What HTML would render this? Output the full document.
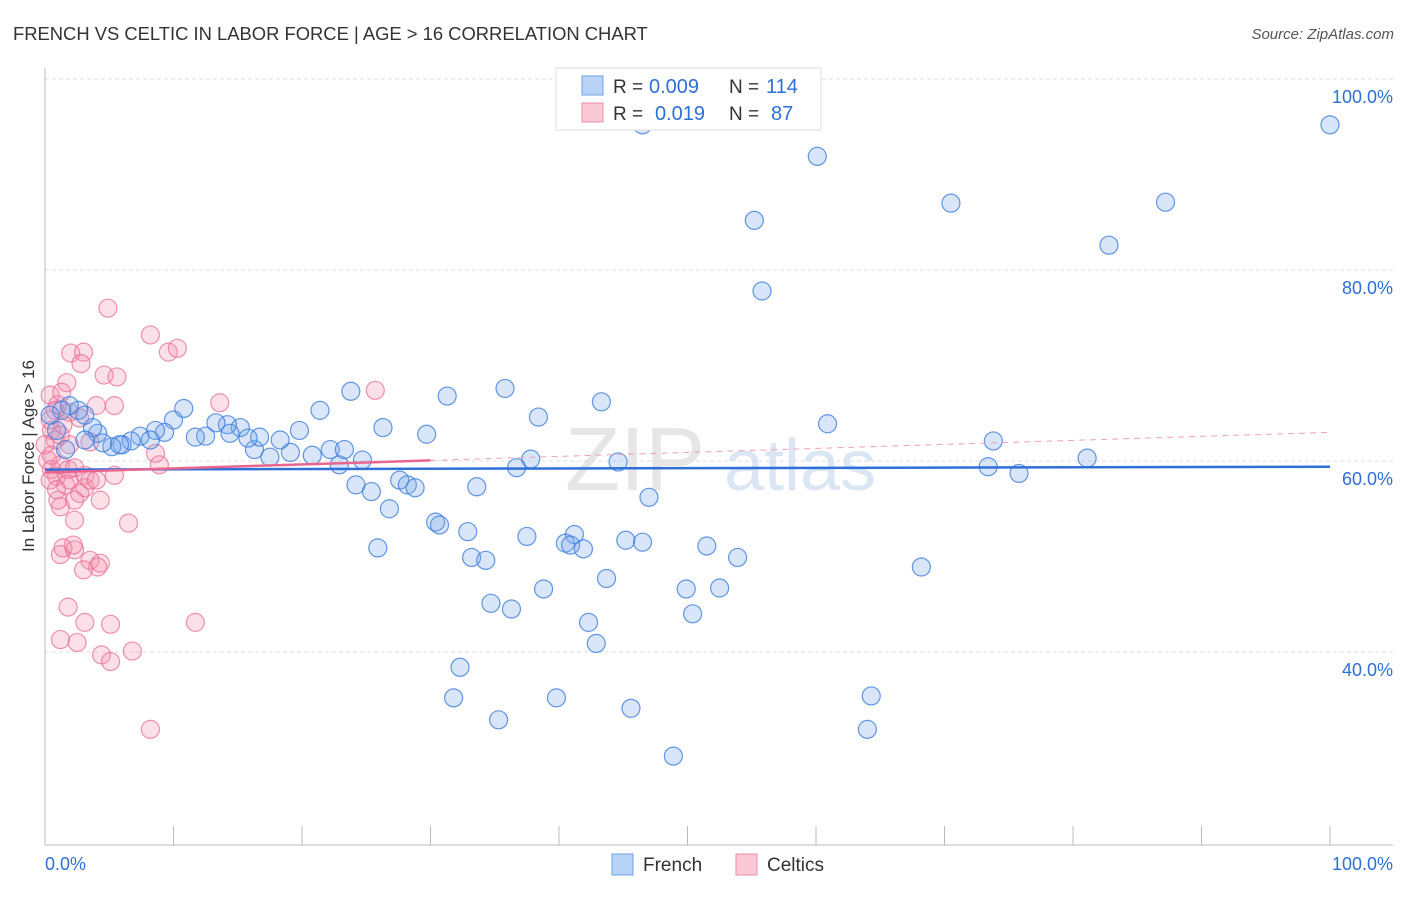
<!DOCTYPE html>
<html><head><meta charset="utf-8"><style>
body{margin:0;background:#fff;font-family:"Liberation Sans",sans-serif}
svg text{font-family:"Liberation Sans",sans-serif}
</style></head><body>
<svg id="chart" width="1406" height="892" xmlns="http://www.w3.org/2000/svg">
<text x="13" y="40" font-size="18.4" fill="#333">FRENCH VS CELTIC IN LABOR FORCE | AGE &gt; 16 CORRELATION CHART</text>
<text x="1394" y="39" font-size="15" fill="#555" text-anchor="end" font-style="italic">Source: ZipAtlas.com</text>
<g>
<text x="635" y="490" font-size="90" fill="#e6e6e6" text-anchor="middle" font-family="Liberation Serif">ZIP</text>
<text x="800" y="490" font-size="72" fill="#dbe6f5" text-anchor="middle">atlas</text>
</g>
<g id="grid"></g>
<g id="axes"></g>
<g id="pts"></g>
<g id="trend"></g>
<text transform="translate(34,456) rotate(-90)" font-size="17" fill="#333" text-anchor="middle">In Labor Force | Age &gt; 16</text>
<g>
<rect x="556" y="68" width="265" height="62" fill="#fff" stroke="#ddd"/>
<rect x="582" y="76" width="21" height="19" fill="#b9d3f7" stroke="#6f9fe4"/>
<rect x="582" y="103" width="21" height="19" fill="#fbc8d6" stroke="#ee8eab"/>
<text x="613" y="93" font-size="19" fill="#333">R =</text>
<text x="649" y="93" font-size="20" fill="#2e6fd8">0.009</text>
<text x="729" y="93" font-size="19" fill="#333">N =</text>
<text x="766" y="93" font-size="20" fill="#2e6fd8">114</text>
<text x="613" y="120" font-size="19" fill="#333">R =</text>
<text x="655" y="120" font-size="20" fill="#2e6fd8">0.019</text>
<text x="729" y="120" font-size="19" fill="#333">N =</text>
<text x="771" y="120" font-size="20" fill="#2e6fd8">87</text>
</g>
<g>
<rect x="612" y="854" width="21" height="21" fill="#b9d3f7" stroke="#6f9fe4"/>
<text x="643" y="871" font-size="19" fill="#333">French</text>
<rect x="736" y="854" width="21" height="21" fill="#fbc8d6" stroke="#ee8eab"/>
<text x="767" y="871" font-size="19" fill="#333">Celtics</text>
</g>
</svg>
<script>
const frenchX=[46.5,100,60.1,55.2,70.5,87.2,82.8,55.8,23.8,35.8,31.3,43.3,21.4,10.8,38.4,60.9,26.3,29.7,73.8,81.1,73.4,75.8,44.6,37.8,36.7,24.7,22.9,16.3,17.5,19.1,20.8,22.2,23.3,18.3,19.8,15.2,14.2,13.3,12.5,11.7,10.0,9.3,8.6,7.4,6.7,6.0,5.2,4.5,4.1,3.7,3.1,2.6,1.9,1.3,0.9,0.4,1.6,3.1,5.8,8.2,14.4,16.7,15.8,24.2,25.4,27.6,28.2,28.8,26.8,30.4,30.7,32.9,33.6,25.9,37.5,41.2,40.5,40.9,41.9,45.2,46.5,47.0,51.5,53.9,33.2,34.3,68.2,43.7,38.8,49.9,52.5,34.7,36.3,50.4,42.3,42.9,32.3,31.8,39.8,64.3,45.6,35.3,64.0,48.9];
const frenchY=[95.2,95.2,91.9,85.2,87.0,87.1,82.6,77.8,67.3,67.6,66.8,66.2,65.3,65.5,64.6,63.9,63.5,62.8,62.1,60.3,59.4,58.7,59.9,60.2,59.3,60.1,59.6,61.2,60.4,60.9,60.6,61.2,61.2,62.2,63.2,63.5,63.8,64.0,62.6,62.5,64.3,63.0,63.2,62.6,62.1,61.7,61.5,61.9,62.9,63.5,64.8,65.3,65.8,65.3,63.2,64.8,61.2,62.2,61.7,62.2,62.9,62.5,62.4,57.5,56.8,58.0,57.5,57.2,55.0,53.6,53.3,52.6,57.3,50.9,52.1,52.3,51.4,51.2,50.8,51.7,51.5,56.2,51.1,49.9,49.9,49.6,48.9,47.7,46.6,46.6,46.7,45.1,44.5,44.0,43.1,40.9,38.4,35.2,35.2,35.4,34.1,32.9,31.9,29.1];
const celticX=[4.9,8.2,9.6,10.3,2.0,3.0,2.8,4.6,5.6,1.7,1.0,4.0,5.4,13.6,25.7,8.6,8.9,6.5,2.3,3.1,5.4,1.2,0.9,1.9,2.7,1.2,1.4,2.3,2.2,3.5,4.3,4.1,3.0,1.8,3.1,5.1,1.2,2.5,4.4,5.1,6.8,11.7,8.2,0.5,0.4,0.8,0.2,0.5,1.2,1.8,2.3,1.6,3.1,1.0,3.5,4.3,0.4,0.8,0,1.9,2.7,1.4,0.5,4.0,1.9,1.2,0.4,0.9,2.3,1.3,3.5];
const celticY=[76.0,73.2,71.4,71.8,71.3,71.4,70.2,69.0,68.8,68.2,65.9,65.8,65.8,66.1,67.4,60.8,59.6,53.5,53.8,58.5,58.5,55.2,58.4,58.0,56.6,50.2,50.9,50.7,51.2,49.6,49.3,48.9,48.6,44.7,43.1,42.9,41.3,41.0,39.7,39.0,40.1,43.1,31.9,63.2,64.3,62.2,60.1,59.1,59.6,59.1,59.3,57.5,57.2,55.9,58.0,55.9,66.9,65.3,61.7,65.1,64.5,63.8,60.6,58.0,61.7,62.7,58.0,57.0,55.9,67.2,62.0];
const yTicks=[100,80,60,40];
const yTickLabels=["100.0%","80.0%","60.0%","40.0%"];
const frenchTrend=[59.1,59.4];
const celticTrend=[58.8,63.0];

const NS="http://www.w3.org/2000/svg";
const X=v=>45+v*12.85;
const Y=v=>79+(100-v)*9.55;
function mk(tag,attrs,parent){const e=document.createElementNS(NS,tag);for(const k in attrs)e.setAttribute(k,attrs[k]);parent.appendChild(e);return e;}
const grid=document.getElementById('grid'),axes=document.getElementById('axes'),pts=document.getElementById('pts'),trend=document.getElementById('trend');
yTicks.forEach((t,i)=>{
 const l=mk('line',{x1:45,x2:1393,y1:Y(t),y2:Y(t),stroke:'#ddd','stroke-dasharray':'4,3'},grid);
 
 
 const tx=mk('text',{x:1393,y:Y(t)+24,'font-size':18,fill:'#2e6fd8','text-anchor':'end'},axes);
 tx.textContent=yTickLabels[i];
 
 
});
const ax=mk('line',{x1:45,x2:45,y1:68,y2:845,stroke:'#bbb'},axes);


const bx=mk('line',{x1:45,x2:1393,y1:845,y2:845,stroke:'#bbb'},axes);


for(let i=1;i<=10;i++){const t=mk('line',{x1:X(i*10),x2:X(i*10),y1:826,y2:845,stroke:'#bbb'},axes);
 
 }
const xl=mk('text',{x:45,y:870,'font-size':18,fill:'#2e6fd8'},axes);xl.textContent='0.0%';


const xr=mk('text',{x:1393,y:870,'font-size':18,fill:'#2e6fd8','text-anchor':'end'},axes);xr.textContent='100.0%';


celticX.forEach((v,i)=>{const c=mk('circle',{cx:X(v),cy:Y(celticY[i]),r:9,fill:'rgba(244,143,172,0.28)',stroke:'rgba(232,110,150,0.75)','stroke-width':1.2},pts);
 
 });
frenchX.forEach((v,i)=>{const c=mk('circle',{cx:X(v),cy:Y(frenchY[i]),r:9,fill:'rgba(120,165,235,0.28)',stroke:'rgba(60,125,220,0.8)','stroke-width':1.2},pts);
 
 });
const tf=mk('line',{x1:X(0),y1:Y(frenchTrend[0]),x2:X(100),y2:Y(frenchTrend[1]),stroke:'#2e6fd8','stroke-width':2.5},trend);


const cy30=celticTrend[0]+(celticTrend[1]-celticTrend[0])*0.3;
const tc=mk('line',{x1:X(0),y1:Y(celticTrend[0]),x2:X(30),y2:Y(cy30),stroke:'#e8658f','stroke-width':2.5},trend);


const td=mk('line',{x1:X(30),y1:Y(cy30),x2:X(100),y2:Y(celticTrend[1]),stroke:'#eda0b8','stroke-width':1,'stroke-dasharray':'6,5'},trend);


</script>
</body></html>
